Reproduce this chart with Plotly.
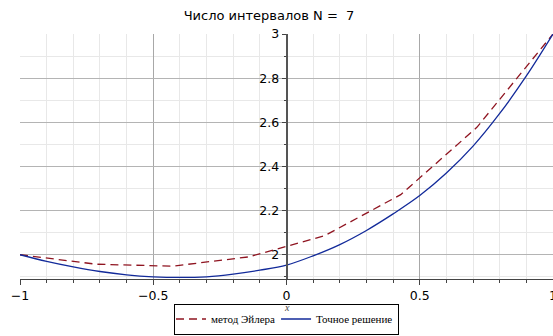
import plotly.graph_objects as go

# Euler method nodes (N = 7 intervals on [-1, 1])
euler_x = [-1.0, -0.7143, -0.4286, -0.1429, 0.1429, 0.4286, 0.7143, 1.0]
euler_y = [2.0, 1.957, 1.948, 1.99, 2.086, 2.272, 2.577, 3.0]

# Exact solution samples
exact_x = [-1.0, -0.9, -0.8, -0.7, -0.6, -0.5, -0.4, -0.3, -0.2, -0.1, 0.0,
           0.1, 0.2, 0.3, 0.4, 0.5, 0.6, 0.7, 0.8, 0.9, 1.0]
exact_y = [2.0, 1.97, 1.945, 1.924, 1.909, 1.90, 1.897, 1.90, 1.912, 1.93, 1.953,
           1.995, 2.046, 2.11, 2.185, 2.268, 2.37, 2.492, 2.64, 2.81, 3.0]

x_ticks = [-1, -0.5, 0, 0.5, 1]
y_ticks = [2, 2.2, 2.4, 2.6, 2.8, 3]

fig = go.Figure()
fig.add_trace(go.Scatter(x=euler_x, y=euler_y, mode="lines", name="метод Эйлера",
                         line=dict(color="#8f1420", width=1.3, dash="8px,5px")))
fig.add_trace(go.Scatter(x=exact_x, y=exact_y, mode="lines", name="Точное решение",
                         line=dict(color="#122a9a", width=1.3, shape="spline")))

fig.update_layout(
    width=553, height=336,
    margin=dict(l=20, r=0, t=34, b=57, autoexpand=False),
    paper_bgcolor="white", plot_bgcolor="white",
    title=dict(text="Число интервалов N =  7", x=269/553, xanchor="center",
               y=1 - 15/336, yanchor="middle",
               font=dict(family="DejaVu Sans", size=13, color="black")),
    showlegend=True,
    legend=dict(orientation="h", x=0.5, xanchor="center",
                yref="container", y=1.5/336, yanchor="bottom",
                bordercolor="black", borderwidth=1, bgcolor="white",
                font=dict(family="Liberation Serif", size=11, color="black"),
                itemwidth=30, tracegroupgap=0, indentation=-4),
    xaxis=dict(range=[-1, 1], tickvals=x_ticks, ticks="outside", ticklen=5,
               tickcolor="#444", showline=True, linecolor="#444", linewidth=1,
               automargin=False, ticklabeloverflow="allow",
               showgrid=True, gridcolor="#a8a8a8", gridwidth=1, zeroline=False,
               tickfont=dict(family="DejaVu Sans", size=12.5, color="black"),
               minor=dict(dtick=0.1, tick0=0, ticks="outside", ticklen=3, tickcolor="#444",
                          showgrid=True, gridcolor="#e8e8e8", gridwidth=1),
               fixedrange=True),
    yaxis=dict(range=[1.89, 3], tickvals=y_ticks, ticks="outside", ticklen=4,
               tickcolor="#444", showline=True, linecolor="#555", linewidth=1.5,
               anchor="free", position=0.5, automargin=False,
               showgrid=True, gridcolor="#b4b4b4", gridwidth=1, zeroline=False,
               tickfont=dict(family="DejaVu Sans", size=12.5, color="black"),
               minor=dict(dtick=0.1, tick0=2, ticks="outside", ticklen=2, tickcolor="#444",
                          showgrid=True, gridcolor="#e8e8e8", gridwidth=1),
               fixedrange=True),
)
fig.add_annotation(text="<i>x</i>", xref="paper", yref="paper", x=0.5, y=-28/245,
                   showarrow=False, yanchor="middle",
                   font=dict(family="Liberation Serif", size=10, color="#444"))

fig.write_html("out.html", config={"displayModeBar": False},
               post_script="document.body.style.margin='0';")
